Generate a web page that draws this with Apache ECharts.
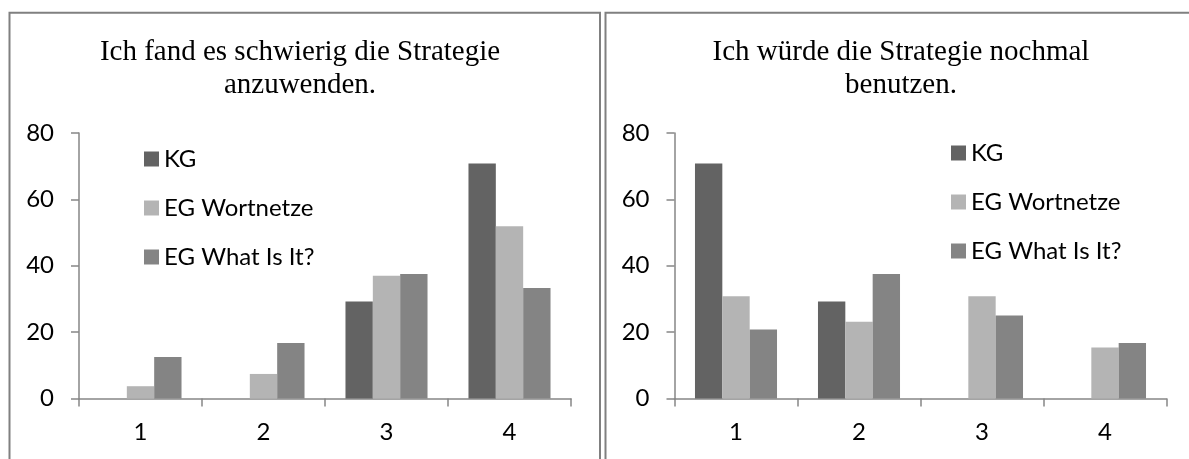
<!DOCTYPE html>
<html>
<head>
<meta charset="utf-8">
<script src="https://cdn.jsdelivr.net/npm/echarts@6/dist/echarts.min.js"></script>
<style>
  html, body { margin: 0; padding: 0; background: #ffffff; }
  #chart { width: 1189px; height: 459px; }
</style>
</head>
<body>
<div id="chart"></div>
<script>
// Answer categories (scale points)
const categories = ['1', '2', '3', '4'];
const seriesNames = ['KG', 'EG Wortnetze', 'EG What Is It?'];

// "Ich fand es schwierig die Strategie anzuwenden." (percent)
const difficultKG = [0, 0, 29.2, 70.8];
const difficultWortnetze = [3.7, 7.4, 37.0, 51.9];
const difficultWhatIsIt = [12.5, 16.7, 37.5, 33.3];

// "Ich würde die Strategie nochmal benutzen." (percent)
const againKG = [70.8, 29.2, 0, 0];
const againWortnetze = [30.8, 23.1, 30.8, 15.4];
const againWhatIsIt = [20.8, 37.5, 25.0, 16.7];

const yTicks = { min: 0, max: 80, interval: 20 };

const titles = [
  'Ich fand es schwierig die Strategie\nanzuwenden.',
  'Ich würde die Strategie nochmal\nbenutzen.'
];

const colors = ['#636363', '#b4b4b4', '#848484'];
const axisGray = '#868686';
const labelFont = 'Lato';

const chart = echarts.init(document.getElementById('chart'), null, { renderer: 'canvas' });

function xAxis(gridIndex) {
  return {
    type: 'category',
    gridIndex,
    data: categories,
    axisLine: { lineStyle: { color: axisGray, width: 1.5 } },
    axisTick: { show: true, length: 8, lineStyle: { color: axisGray, width: 1.5 } },
    axisLabel: { color: '#000', fontFamily: labelFont, fontSize: 24, margin: 22 }
  };
}
function yAxis(gridIndex) {
  return {
    type: 'value',
    gridIndex,
    min: yTicks.min,
    max: yTicks.max,
    interval: yTicks.interval,
    axisLine: { show: true, lineStyle: { color: axisGray, width: 1.5 } },
    axisTick: { show: true, length: 8, lineStyle: { color: axisGray, width: 1.5 } },
    splitLine: { show: false },
    axisLabel: { color: '#000', fontFamily: labelFont, fontSize: 24, margin: 25 }
  };
}
function bar(name, data, idx, color) {
  return {
    type: 'bar',
    name,
    data,
    xAxisIndex: idx,
    yAxisIndex: idx,
    barGap: '0%',
    barCategoryGap: '33.3%',
    itemStyle: { color },
    emphasis: { disabled: true }
  };
}
function legend(left, top) {
  return {
    data: seriesNames,
    orient: 'vertical',
    left,
    top,
    padding: 0,
    itemWidth: 15,
    itemHeight: 15,
    itemGap: 25,
    icon: 'rect',
    selectedMode: false,
    textStyle: { color: '#000', fontFamily: labelFont, fontSize: 24, lineHeight: 24 }
  };
}

const titleStyle = {
  fontFamily: 'Liberation Serif',
  fontSize: 29,
  fontWeight: 'normal',
  color: '#000',
  lineHeight: 33
};

chart.setOption({
  animation: false,
  title: [
    { text: titles[0], left: 300, top: 36, textAlign: 'center', padding: 0, textStyle: titleStyle },
    { text: titles[1], left: 901, top: 36, textAlign: 'center', padding: 0, textStyle: titleStyle }
  ],
  legend: [legend(144, 147), legend(951, 141)],
  grid: [
    { left: 79, top: 133, width: 492, height: 265.5 },
    { left: 674.5, top: 133, width: 492, height: 265.5 }
  ],
  xAxis: [xAxis(0), xAxis(1)],
  yAxis: [yAxis(0), yAxis(1)],
  series: [
    bar(seriesNames[0], difficultKG, 0, colors[0]),
    bar(seriesNames[1], difficultWortnetze, 0, colors[1]),
    bar(seriesNames[2], difficultWhatIsIt, 0, colors[2]),
    bar(seriesNames[0], againKG, 1, colors[0]),
    bar(seriesNames[1], againWortnetze, 1, colors[1]),
    bar(seriesNames[2], againWhatIsIt, 1, colors[2])
  ],
  graphic: [
    // panel frames
    { type: 'rect', silent: true, shape: { x: 9.5, y: 12.75, width: 590.5, height: 470 },
      style: { fill: 'none', stroke: '#808080', lineWidth: 2 } },
    { type: 'rect', silent: true, shape: { x: 605.5, y: 12.75, width: 600, height: 470 },
      style: { fill: 'none', stroke: '#808080', lineWidth: 2 } }
  ]
});
</script>
</body>
</html>
